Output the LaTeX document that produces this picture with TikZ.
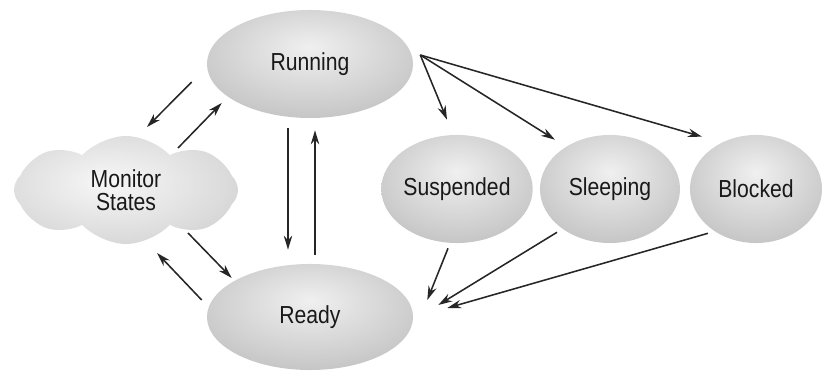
\documentclass[tikz,border=0pt]{standalone}
\usepackage{fontspec}
\newfontfamily\lblfont[FakeStretch=0.86]{Liberation Sans}
\usetikzlibrary{arrows.meta}
\usetikzlibrary{shapes.geometric}
\usetikzlibrary{shapes.symbols}
\usetikzlibrary{calc}
\pgfdeclareradialshading{stshade}{\pgfpoint{0bp}{8bp}}{color(0bp)=(gray!12); color(22bp)=(gray!36); color(45bp)=(gray!62); color(60bp)=(gray!74); color(75bp)=(gray!80)}
\pgfdeclareradialshading{monshade}{\pgfpoint{-4bp}{4bp}}{color(0bp)=(gray!6); color(25bp)=(gray!28); color(45bp)=(gray!50); color(60bp)=(gray!60); color(75bp)=(gray!64)}

\begin{document}
\begin{tikzpicture}[x=0.025cm,y=-0.025cm,
  stnode/.style={ellipse,inner sep=0pt,shading=stshade,font=\lblfont\fontsize{17.5}{16.5}\selectfont,text=black!90},
  arr/.style={-{Stealth[length=10pt,width=6pt]},line width=1.1pt,draw=black!85}]
\useasboundingbox (0,0) rectangle (823,372);
% states
\node[stnode,minimum width=5.15cm,minimum height=2.7cm] (run) at (310,64) {Running};
\node[stnode,minimum width=5.15cm,minimum height=2.65cm] (rdy) at (310,317) {Ready};
\node[stnode,minimum width=3.5cm,minimum height=2.7cm] (susp) at (457,189) {Suspended};
\node[stnode,minimum width=3.5cm,minimum height=2.7cm] (sleep) at (610,189) {Sleeping};
\node[stnode,minimum width=3.3cm,minimum height=2.7cm] (blk) at (756,189) {Blocked};
\node[stnode,cloud,cloud puffs=8,cloud puff arc=95,aspect=2.1,shading=monshade,minimum width=5.6cm,minimum height=2.7cm,align=center] (mon) at (126,190) {Monitor\\States};
% monitor <-> running / ready
\draw[arr] ($(run.west)+(-15,18)$) -- ($(mon)+(21,-63)$);
\draw[arr] ($(mon)+(52,-42)$) -- ($(run.west)+(15,39)$);
\draw[arr] ($(mon)+(62,43)$) -- ($(rdy.west)+(25,-39)$);
\draw[arr] ($(rdy.west)+(-5,-17)$) -- ($(mon)+(31,63)$);
% running <-> ready
\draw[arr] ($(run.south)+(-22,10)$) -- ($(rdy.north)+(-22,-14)$);
\draw[arr] ($(rdy.north)+(5,-9)$) -- ($(run.south)+(5,12)$);
% running -> waiting states
\draw[arr] ($(run.east)+(7,-9)$) -- ($(susp.north)+(-10,-15)$);
\draw[arr] ($(run.east)+(7,-9)$) -- ($(sleep.north)+(-55,5)$);
\draw[arr] ($(run.east)+(7,-9)$) -- ($(blk.north)+(-54,2)$);
% waiting states -> ready
\draw[arr] ($(susp.south)+(-9,5)$) -- ($(rdy.east)+(14,-17)$);
\draw[arr] ($(sleep.south)+(-53,-11)$) -- ($(rdy.east)+(25,-12)$);
\draw[arr] ($(blk.south)+(-48,-10)$) -- ($(rdy.east)+(34,-9)$);
\end{tikzpicture}
\end{document}
